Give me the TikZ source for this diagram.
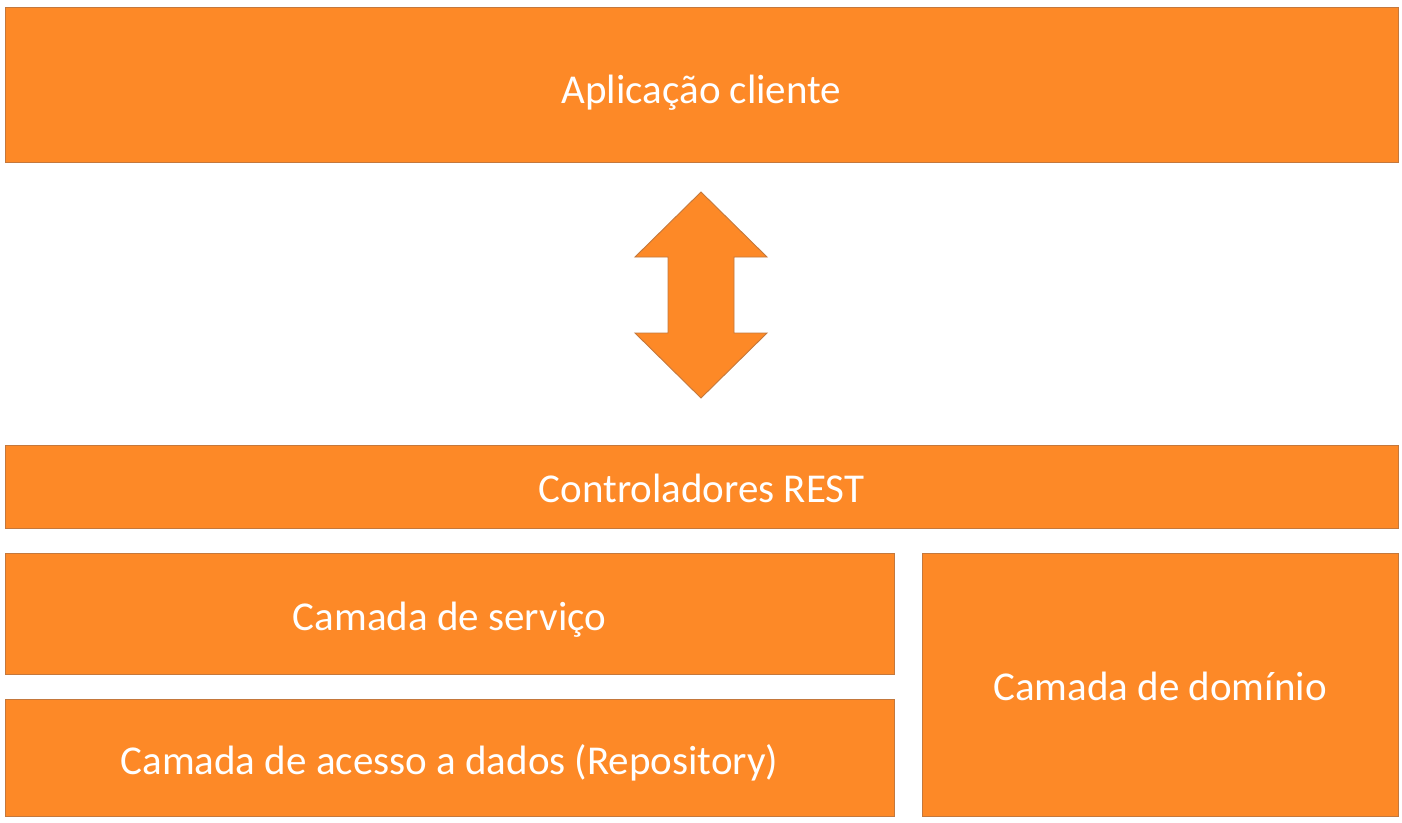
\documentclass[tikz,border=0pt]{standalone}
\usepackage{fontspec}
\setmainfont{Carlito}
\definecolor{layerfill}{RGB}{253,137,39}
\definecolor{layeredge}{RGB}{196,120,60}
\begin{document}
\begin{tikzpicture}[x=1pt,y=-1pt,
  layer/.style={draw=layeredge, line width=0.9pt, fill=layerfill, text=white,
    inner sep=0pt, font=\fontsize{41}{46}\selectfont,
    text height=34pt, text depth=0pt}]
\useasboundingbox (0,0) rectangle (1402,822);
\fill[white] (0,0) rectangle (1402,822);

% application layers
\node[layer, minimum width=1393, minimum height=155, text height=38pt] (client) at (701.5,84.5) {Aplicação cliente};
\node[layer, minimum width=1393, minimum height=83, text height=32pt] (rest) at (701.5,486.5) {Controladores REST};
\node[layer, minimum width=889, minimum height=121] (service) at (449.5,613.5) {Camada de serviço};
\node[layer, minimum width=889, minimum height=117] (repo) at (449.5,757.5) {Camada de acesso a dados (Repository)};
\node[layer, minimum width=476, minimum height=263, text height=32pt] (domain) at (1160,684.5) {Camada de domínio};

% two-way block arrow between client and REST layer
\draw[layeredge, line width=0.9pt, fill=layerfill, line join=miter]
  (701,192) -- (767,257) -- (734,257) -- (734,333) -- (767,333) -- (701,398)
  -- (635,333) -- (668,333) -- (668,257) -- (635,257) -- cycle;
\end{tikzpicture}
\end{document}
